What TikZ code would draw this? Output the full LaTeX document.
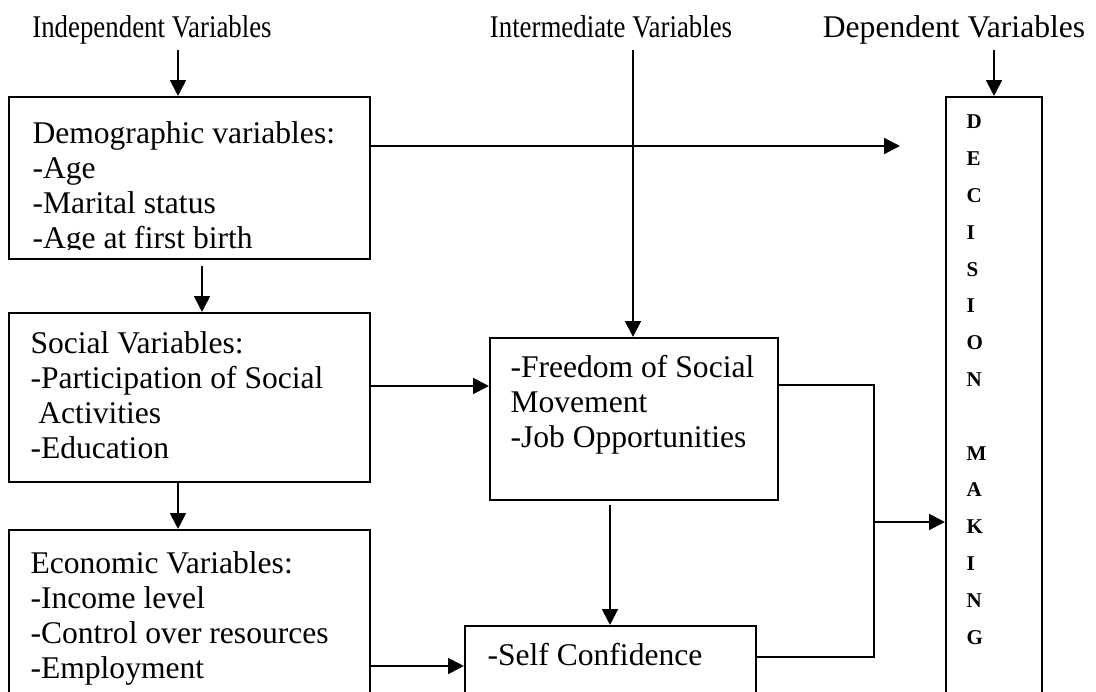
\documentclass[tikz,border=0pt]{standalone}
\usepackage{graphicx}
\usepackage{fontspec}
\setmainfont{Liberation Serif}
\usetikzlibrary{arrows.meta,fit}

\tikzset{
  box/.style={draw, line width=0.8pt, inner sep=0pt},
  txt/.style={anchor=north west, align=left, inner sep=0pt, font=\fontsize{12}{13.3}\selectfont},
  head/.style={anchor=base, inner sep=0pt, font=\fontsize{12}{14}\selectfont},
  letter/.style={anchor=west, inner sep=0pt, font=\fontsize{8}{9}\selectfont\bfseries},
  arr/.style={-{Triangle[length=6pt,width=6pt]}, line width=0.8pt},
  ln/.style={line width=0.8pt}
}

\begin{document}
\begin{tikzpicture}[x=0.38pt, y=-0.38pt]
    \clip (0,0) rectangle (1096,692);

    % headings
    \node[head] (indep) at (152,38) {\scalebox{0.85}[1]{Independent Variables}};
    \node[head] (inter) at (611,38) {\scalebox{0.85}[1]{Intermediate Variables}};
    \node[head] (dep) at (954,38) {Dependent Variables};

    % boxes
    \node[box, fit={(9,97) (370,259)}] (demo) {};
    \node[box, fit={(9,313) (370,482)}] (social) {};
    \node[box, fit={(9,530) (370,760)}] (econ) {};
    \node[box, fit={(490,338) (778,500)}] (freedom) {};
    \node[box, fit={(465,626) (756,760)}] (self) {};
    \node[box, fit={(946,97) (1042,760)}] (decision) {};

    % box texts
    \begin{scope}
      \clip (9,97) rectangle (370,249);
      \node[txt] (demotxt) at (32,121) {Demographic variables:\\-Age\\-Marital status\\-Age at first birth};
    \end{scope}
    \node[txt] (socialtxt) at (30,331) {Social Variables:\\-Participation of Social\\\ Activities\\-Education};
    \node[txt] (econtxt) at (30,551) {Economic Variables:\\-Income level\\-Control over resources\\-Employment};
    \node[txt] (freedomtxt) at (510,355) {-Freedom of Social\\Movement\\-Job Opportunities};
    \node[txt] (selftxt) at (487,643) {-Self Confidence};

    \foreach \ch/\k in {D/0,E/1,C/2,I/3,S/4,I/5,O/6,N/7,M/9,A/10,K/11,I/12,N/13,G/14}
      \node[letter] (l\k) at (966,122+36.8*\k) {\ch};

    % connectors
    \coordinate (a1) at (178,50);
    \coordinate (a2) at (633,50);
    \coordinate (a3) at (994,50);
    \coordinate (b1) at (202,266);
    \coordinate (b2) at (900,146);
    \coordinate (c1) at (178,482);
    \coordinate (c2) at (0,386);
    \coordinate (e1) at (0,666);
    \coordinate (f1) at (610,505);
    \coordinate (j1) at (874,385);
    \coordinate (j2) at (874,657);
    \coordinate (j3) at (874,522);

    \draw[arr] (a1) -- (a1 |- demo.north);
    \draw[arr] (a2) -- (a2 |- freedom.north);
    \draw[arr] (a3) -- (a3 |- decision.north);
    \draw[arr] (demo.east |- b2) -- (b2);
    \draw[arr] (b1) -- (b1 |- social.north);
    \draw[arr] (social.east |- c2) -- (freedom.west |- c2);
    \draw[arr] (c1) -- (c1 |- econ.north);
    \draw[arr] (econ.east |- e1) -- (self.west |- e1);
    \draw[arr] (f1) -- (f1 |- self.north);
    \draw[ln] (freedom.east |- j1) -- (j1) -- (j2) -- (self.east |- j2);
    \draw[arr] (j3) -- (j3 -| decision.west);
\end{tikzpicture}
\end{document}
